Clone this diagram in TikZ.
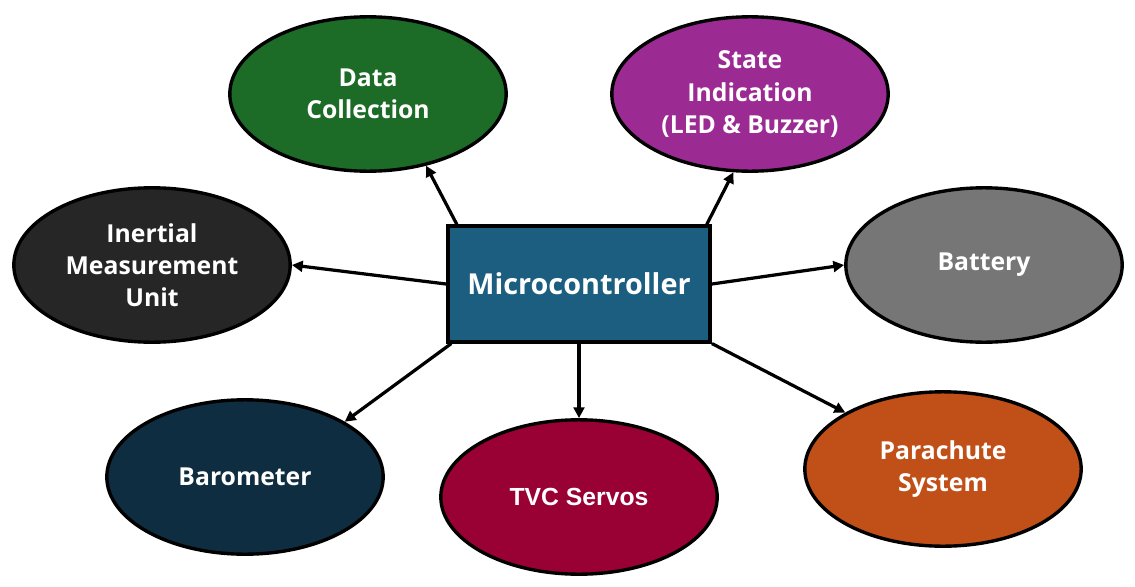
\documentclass[tikz,border=0pt]{standalone}
\usepackage{fontspec}
\setmainfont{Open Sans}
\newfontfamily\arialfont{Liberation Sans}
\usetikzlibrary{shapes.geometric,arrows.meta}

\definecolor{mcublue}{HTML}{1B5E80}
\definecolor{datagreen}{HTML}{1C6B26}
\definecolor{statepurple}{HTML}{9C2A93}
\definecolor{imudark}{HTML}{262626}
\definecolor{batterygray}{HTML}{767676}
\definecolor{baronavy}{HTML}{0E2D40}
\definecolor{tvcred}{HTML}{990033}
\definecolor{chuteorange}{HTML}{C05018}

\begin{document}
\begin{tikzpicture}[
  blob/.style={ellipse, draw=black, line width=2.4pt, minimum width=6.91cm, minimum height=3.86cm, inner sep=0pt, text=white, align=center, font=\fontsize{17.6}{22.8}\selectfont\bfseries},
  arr/.style={-{Triangle[length=2.7mm,width=2.7mm]}, line width=2.3pt}
]
\useasboundingbox (0,0) rectangle (28.375,14.65);

\node[draw=black, line width=2.8pt, fill=mcublue, minimum width=6.55cm, minimum height=2.88cm, text=white, font=\fontsize{20.5}{24}\selectfont\bfseries] (mcu) at (14.475,7.55) {Microcontroller};

\node[blob, fill=datagreen] (data) at (9.2,12.3) {Data\\Collection};
\node[blob, fill=statepurple] (state) at (18.75,12.3) {State\\Indication\\(LED \& Buzzer)};
\node[blob, fill=imudark] (imu) at (3.8,8.025) {Inertial\\Measurement\\Unit};
\node[blob, fill=batterygray] (battery) at (24.6,8.025) {Battery};
\node[blob, fill=baronavy] (baro) at (6.125,2.725) {Barometer};
\node[blob, fill=tvcred, font=\arialfont\fontsize{17.6}{22.8}\selectfont\bfseries] (tvc) at (14.475,2.225) {TVC Servos};
\node[blob, fill=chuteorange] (chute) at (23.575,2.925) {Parachute\\System};

\draw[arr] (mcu.154) -- (data.-51);
\draw[arr] (mcu.25) -- (state.-102);
\draw[arr] (mcu.west) -- (imu.east);
\draw[arr] (mcu.east) -- (battery.west);
\draw[arr] (mcu.-155) -- (baro.29);
\draw[arr] (mcu.south) -- (tvc.north);
\draw[arr] (mcu.south east) -- (chute.150);
\end{tikzpicture}
\end{document}
